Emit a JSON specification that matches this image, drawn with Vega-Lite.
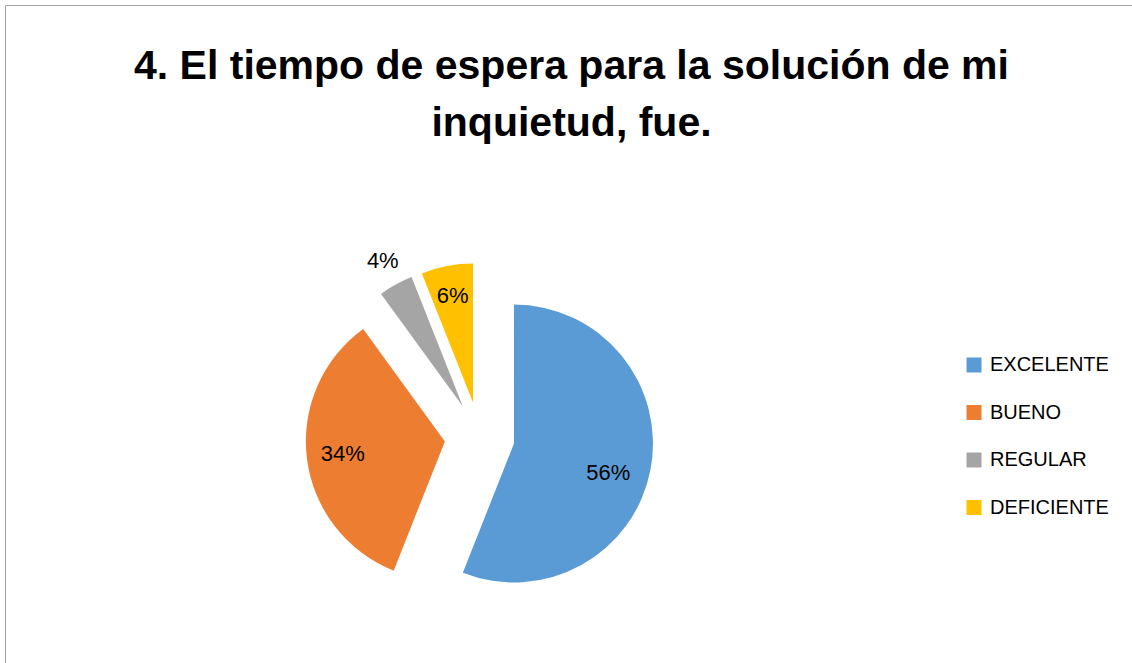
{
  "$schema": "https://vega.github.io/schema/vega-lite/v6.json",
  "width": 1127,
  "height": 658,
  "autosize": {"type": "none"},
  "padding": {"left": 5, "top": 5, "right": 0, "bottom": 0},
  "background": "white",
  "config": {
    "view": {"stroke": "#a0a0a0", "strokeWidth": 1},
    "font": "Liberation Sans"
  },
  "title": {
    "text": ["4. El tiempo de espera para la solución de mi", "inquietud, fue."],
    "font": "Liberation Sans",
    "fontSize": 41,
    "fontWeight": "bold",
    "color": "#000000",
    "lineHeight": 57,
    "anchor": "middle",
    "baseline": "top",
    "offset": -140,
    "dx": 3
  },
  "data": {
    "values": [
      {"category": "EXCELENTE", "value": 0.56},
      {"category": "BUENO", "value": 0.34},
      {"category": "REGULAR", "value": 0.04},
      {"category": "DEFICIENTE", "value": 0.06}
    ]
  },
  "transform": [
    {"window": [{"op": "sum", "field": "value", "as": "v1"}], "frame": [null, 0]},
    {"calculate": "datum.v1 - datum.value", "as": "v0"},
    {"calculate": "(datum.v0 + datum.v1) / 2", "as": "mid"},
    {"calculate": "sin(datum.mid * 2 * PI)", "as": "dx"},
    {"calculate": "-cos(datum.mid * 2 * PI)", "as": "dy"}
  ],
  "encoding": {
    "x": {"field": "dx", "type": "quantitative", "axis": null, "scale": {"domain": [-1, 1], "range": [439.6, 509.6], "nice": false, "zero": false}},
    "y": {"field": "dy", "type": "quantitative", "axis": null, "scale": {"domain": [-1, 1], "range": [397, 467], "nice": false, "zero": false}}
  },
  "layer": [
    {
      "mark": {"type": "arc", "radius": 139},
      "encoding": {
        "theta": {"field": "v0", "type": "quantitative", "scale": {"domain": [0, 1], "range": [0, 6.283185307179586]}},
        "theta2": {"field": "v1"},
        "color": {
          "field": "category",
          "type": "nominal",
          "scale": {"domain": ["EXCELENTE", "BUENO", "REGULAR", "DEFICIENTE"], "range": ["#5B9BD5", "#ED7D31", "#A5A5A5", "#FFC000"]},
          "legend": {
            "title": null,
            "orient": "none",
            "legendX": 959,
            "legendY": 350,
            "symbolType": "square",
            "symbolSize": 225,
            "symbolStrokeWidth": 0,
            "labelFont": "Liberation Sans",
            "labelFontSize": 20,
            "labelColor": "#000000",
            "labelOffset": 6,
            "rowPadding": 27.5,
            "padding": 0
          }
        }
      }
    },
    {
      "transform": [{"filter": "datum.category == 'EXCELENTE'"}],
      "mark": {"type": "text", "radius": 96, "dy": 11, "font": "Liberation Sans", "fontSize": 22, "color": "#000000", "baseline": "middle", "align": "center"},
      "encoding": {
        "theta": {"field": "mid", "type": "quantitative"},
        "text": {"field": "value", "type": "quantitative", "format": ".0%"}
      }
    },
    {
      "transform": [{"filter": "datum.category == 'BUENO'"}],
      "mark": {"type": "text", "radius": 103, "font": "Liberation Sans", "fontSize": 22, "color": "#000000", "baseline": "middle", "align": "center"},
      "encoding": {
        "theta": {"field": "mid", "type": "quantitative"},
        "text": {"field": "value", "type": "quantitative", "format": ".0%"}
      }
    },
    {
      "transform": [{"filter": "datum.category == 'DEFICIENTE'"}],
      "mark": {"type": "text", "radius": 109, "font": "Liberation Sans", "fontSize": 22, "color": "#000000", "baseline": "middle", "align": "center"},
      "encoding": {
        "theta": {"field": "mid", "type": "quantitative"},
        "text": {"field": "value", "type": "quantitative", "format": ".0%"}
      }
    },
    {
      "transform": [{"filter": "datum.category == 'REGULAR'"}],
      "mark": {"type": "text", "radius": 166, "font": "Liberation Sans", "fontSize": 22, "color": "#000000", "baseline": "middle", "align": "center"},
      "encoding": {
        "theta": {"field": "mid", "type": "quantitative"},
        "text": {"field": "value", "type": "quantitative", "format": ".0%"}
      }
    }
  ]
}
